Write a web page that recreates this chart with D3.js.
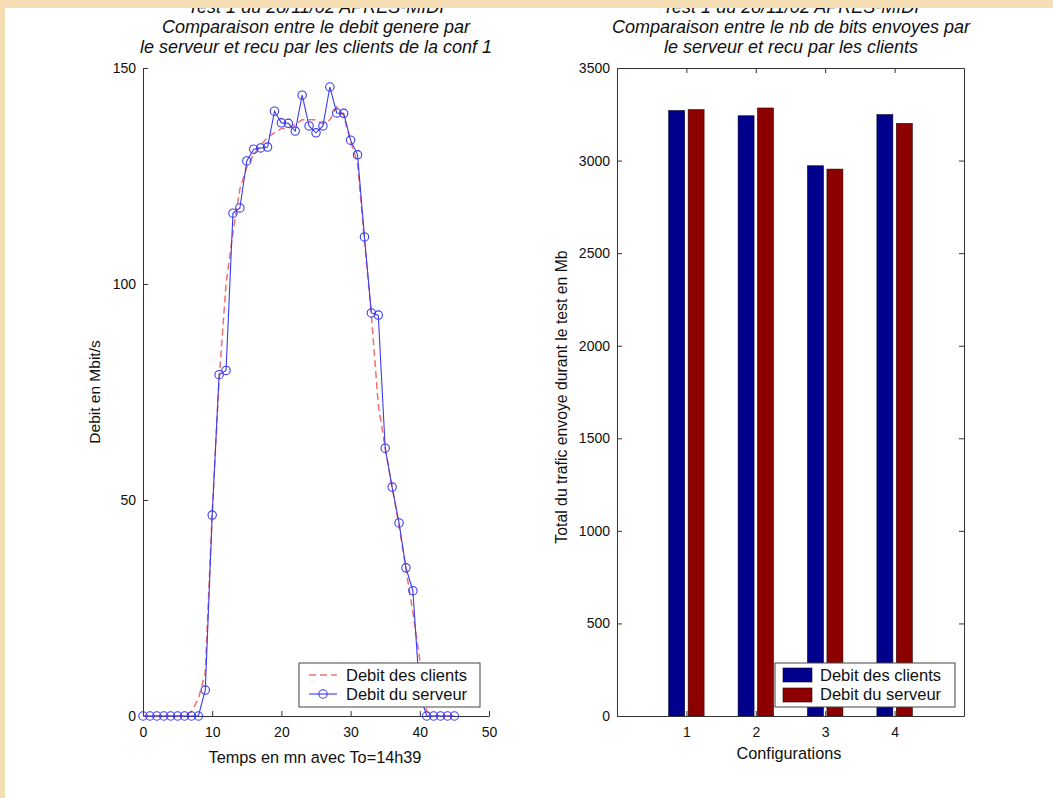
<!DOCTYPE html>
<html><head><meta charset="utf-8">
<script src="https://cdn.jsdelivr.net/npm/d3@7"></script>
<style>
html,body{margin:0;padding:0;background:#fff;}
svg text{font-family:"Liberation Sans",Arial,Helvetica,sans-serif;fill:#111;}
</style></head>
<body>
<svg id="c" width="1053" height="798"></svg>
<script>
// ---- data ----
const minutes = d3.range(0, 46);
const serveur = [0,0,0,0,0,0,0,0,0,6,46.5,79,80,116.4,117.6,128.5,131.2,131.5,131.7,140,137.3,137.2,135.4,143.7,136.6,135,136.6,145.6,139.6,139.5,133.3,129.9,110.9,93.3,92.8,62,53,44.7,34.3,29,5,0,0,0,0,0];
const clients = [0,0,0,0,0,0,0,1,4,10,47,78,100,112,122,127,130,132,134,135,136,136,137,138,138,138,137,138,141,139,133,128,110,93,72,62,53,44,34,24,13,1,0,0,0,0];
const configs = [1,2,3,4];
const trafficClients = [3270,3242,2972,3248];
const trafficServeur = [3275,3284,2954,3201];
const xTicksL = [0,10,20,30,40,50];
const yTicksL = [0,50,100,150];
const yTicksR = [0,500,1000,1500,2000,2500,3000,3500];
const legendL = ["Debit des clients","Debit du serveur"];
const legendR = ["Debit des clients","Debit du serveur"];
const titleL = ["Test 1 du 28/11/02 APRES-MIDI","Comparaison entre le debit genere par","le serveur et recu par les clients de la conf 1"];
const titleR = ["Test 1 du 28/11/02 APRES-MIDI","Comparaison entre le nb de bits envoyes par","le serveur et recu par les clients"];

const svg = d3.select("#c");
const axisColor = "#333";
const blue = "#3b3bf0", red = "#f07070";
const barBlue = "#00008c", barRed = "#8c0000";

// ---- left chart ----
const xL = d3.scaleLinear().domain([0,50]).range([143,489]);
const yL = d3.scaleLinear().domain([0,150]).range([716,68]);
const gL = svg.append("g");

function styleAxis(g){
  g.selectAll("path,line").attr("stroke",axisColor).attr("stroke-width",1);
  g.selectAll("text").attr("font-size",14).attr("fill","#111").style("font-family","'Liberation Sans',Arial,sans-serif");
}

gL.append("g").attr("transform","translate(0,716)")
  .call(d3.axisBottom(xL).tickValues(xTicksL).tickFormat(d3.format("d")).tickSize(-5).tickSizeOuter(0).tickPadding(11))
  .call(styleAxis);
gL.append("g").attr("transform","translate(143,0)")
  .call(d3.axisLeft(yL).tickValues(yTicksL).tickFormat(d3.format("d")).tickSize(-5).tickSizeOuter(0).tickPadding(7))
  .call(styleAxis);

const lineC = d3.line().x((d,i)=>xL(minutes[i])).y(d=>yL(d));
gL.append("path").datum(clients).attr("d",lineC).attr("fill","none")
  .attr("stroke",red).attr("stroke-width",1.5).attr("stroke-dasharray","7,4");
gL.append("path").datum(serveur).attr("d",lineC).attr("fill","none")
  .attr("stroke",blue).attr("stroke-width",1.1);
gL.selectAll("circle.s").data(serveur).enter().append("circle")
  .attr("cx",(d,i)=>xL(minutes[i])).attr("cy",d=>yL(d)).attr("r",4.2)
  .attr("fill","none").attr("stroke",blue).attr("stroke-width",1.1);

// left legend
const lgL = gL.append("g");
lgL.append("rect").attr("x",299).attr("y",663).attr("width",181).attr("height",44)
  .attr("fill","#fff").attr("stroke","#444").attr("stroke-width",1);
lgL.append("line").attr("x1",309).attr("x2",337).attr("y1",675).attr("y2",675)
  .attr("stroke",red).attr("stroke-width",1.5).attr("stroke-dasharray","7,4");
lgL.append("line").attr("x1",309).attr("x2",337).attr("y1",694).attr("y2",694)
  .attr("stroke",blue).attr("stroke-width",1.1);
lgL.append("circle").attr("cx",323).attr("cy",694).attr("r",4.2).attr("fill","none").attr("stroke",blue).attr("stroke-width",1.1);
legendL.forEach((t,i)=>lgL.append("text").attr("x",346).attr("y",681+i*19).attr("font-size",16.5).text(t));

// left labels
gL.append("text").attr("x",315).attr("y",763).attr("text-anchor","middle").attr("font-size",16.3).text("Temps en mn avec To=14h39");
gL.append("text").attr("transform","translate(100,392) rotate(-90)").attr("text-anchor","middle").attr("font-size",15.5).text("Debit en Mbit/s");
titleL.forEach((t,i)=>gL.append("text").attr("x",316).attr("y",13+i*20).attr("text-anchor","middle")
  .attr("font-size",18).attr("font-style","italic").text(t));

// ---- right chart ----
const xR = d3.scaleLinear().domain([0,5]).range([617,964]);
const yR = d3.scaleLinear().domain([0,3500]).range([716,68]);
const gR = svg.append("g");
const bw = 0.23, off = 0.14;

gR.selectAll("rect.b").data(trafficClients).enter().append("rect")
  .attr("x",(d,i)=>xR(configs[i]-off-bw/2)).attr("width",xR(bw)-xR(0))
  .attr("y",d=>yR(d)).attr("height",d=>yR(0)-yR(d))
  .attr("fill",barBlue).attr("stroke","#000030").attr("stroke-width",0.6);
gR.selectAll("rect.r").data(trafficServeur).enter().append("rect")
  .attr("x",(d,i)=>xR(configs[i]+off-bw/2)).attr("width",xR(bw)-xR(0))
  .attr("y",d=>yR(d)).attr("height",d=>yR(0)-yR(d))
  .attr("fill",barRed).attr("stroke","#300000").attr("stroke-width",0.6);

gR.append("g").attr("transform","translate(0,716)")
  .call(d3.axisBottom(xR).tickValues(configs).tickFormat(d3.format("d")).tickSize(-5).tickSizeOuter(0).tickPadding(11))
  .call(styleAxis);
gR.append("g").attr("transform","translate(617,0)")
  .call(d3.axisLeft(yR).tickValues(yTicksR).tickFormat(d3.format("d")).tickSize(-5).tickSizeOuter(0).tickPadding(7))
  .call(styleAxis);
gR.append("g").attr("transform","translate(0,68)")
  .call(d3.axisTop(xR).tickValues(configs).tickFormat("").tickSize(-5).tickSizeOuter(0))
  .call(styleAxis);
gR.append("g").attr("transform","translate(964,0)")
  .call(d3.axisRight(yR).tickValues(yTicksR).tickFormat("").tickSize(-5).tickSizeOuter(0))
  .call(styleAxis);

// right legend
const lgR = gR.append("g");
lgR.append("rect").attr("x",775).attr("y",663).attr("width",180).attr("height",44)
  .attr("fill","#fff").attr("stroke","#444").attr("stroke-width",1);
lgR.append("rect").attr("x",783).attr("y",668).attr("width",29).attr("height",14).attr("fill",barBlue).attr("stroke","#000030").attr("stroke-width",0.6);
lgR.append("rect").attr("x",783).attr("y",688).attr("width",29).attr("height",14).attr("fill",barRed).attr("stroke","#300000").attr("stroke-width",0.6);
legendR.forEach((t,i)=>lgR.append("text").attr("x",820).attr("y",681+i*19).attr("font-size",16.5).text(t));

gR.append("text").attr("x",789).attr("y",759).attr("text-anchor","middle").attr("font-size",16.3).text("Configurations");
gR.append("text").attr("transform","translate(567,397) rotate(-90)").attr("text-anchor","middle").attr("font-size",15.8).text("Total du trafic envoye durant le test en Mb");
titleR.forEach((t,i)=>gR.append("text").attr("x",791).attr("y",13+i*20).attr("text-anchor","middle")
  .attr("font-size",18).attr("font-style","italic").text(t));

// beige frame
svg.append("rect").attr("x",0).attr("y",0).attr("width",1053).attr("height",8).attr("fill","#f5deb3");
svg.append("rect").attr("x",0).attr("y",0).attr("width",5).attr("height",798).attr("fill","#f5deb3");
</script>
</body></html>
